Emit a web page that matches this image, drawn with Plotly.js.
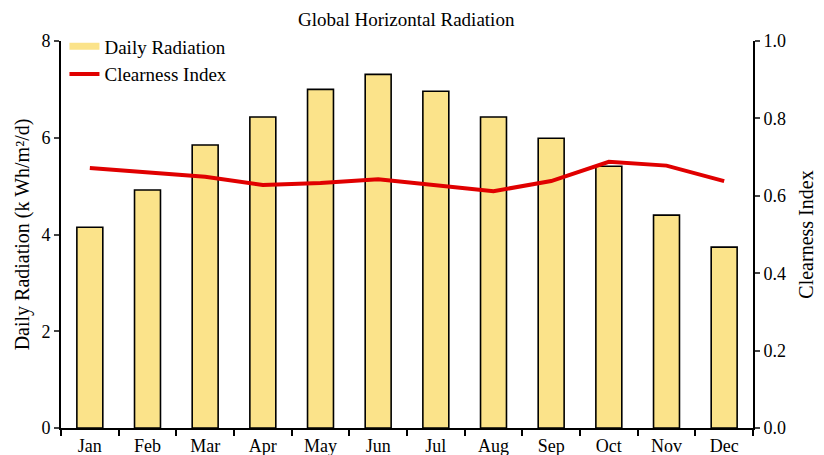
<!DOCTYPE html>
<html><head><meta charset="utf-8">
<script src="https://cdn.plot.ly/plotly-3.0.1.min.js"></script>
<style>html,body{margin:0;padding:0;background:#fff}</style>
</head><body>
<div id="chart" style="width:824px;height:455px"></div>
<script>
const months = ["Jan","Feb","Mar","Apr","May","Jun","Jul","Aug","Sep","Oct","Nov","Dec"];
const dailyRadiation = [4.15,4.92,5.85,6.43,7.00,7.31,6.96,6.43,5.99,5.41,4.40,3.74];
const clearnessIndex = [0.672,0.660,0.649,0.628,0.633,0.643,0.628,0.612,0.638,0.688,0.678,0.638];

const F = "Liberation Serif, Times New Roman, serif";
const data = [
  {type:"bar", x:months, y:dailyRadiation, name:"Daily Radiation", showlegend:false,
   marker:{color:"#FBE38A", line:{color:"#000", width:1.6}}, width:0.45},
  {type:"scatter", mode:"lines", x:[null], y:[null], name:"Daily Radiation",
   line:{color:"#FBE38A", width:7}, hoverinfo:"skip"},
  {type:"scatter", mode:"lines", x:months, y:clearnessIndex, name:"Clearness Index",
   yaxis:"y2", line:{color:"#E00000", width:4}}
];
const layout = {
  width:824, height:455,
  margin:{l:61, r:71, t:41, b:27},
  paper_bgcolor:"#fff", plot_bgcolor:"#fff",
  font:{family:F, size:16, color:"#000"},
  title:{text:"Global Horizontal Radiation", x:0.493, xanchor:"center", y:0.958, yanchor:"middle", font:{family:F, size:19}},
  showlegend:true,
  legend:{x:0.005, y:1.035, xanchor:"left", yanchor:"top", bgcolor:"rgba(0,0,0,0)",
          font:{family:F, size:19}, tracegroupgap:0, itemwidth:30},
  xaxis:{type:"category", range:[-0.5,11.5], showline:true, linecolor:"#000", linewidth:2,
         ticks:"outside", tickson:"boundaries", ticklen:6, tickwidth:2, tickcolor:"#000",
         showgrid:false, zeroline:false, tickfont:{family:F, size:18}, fixedrange:true},
  yaxis:{range:[0,8], dtick:2, showline:true, linecolor:"#000", linewidth:2,
         ticks:"outside", ticklen:5, tickwidth:2, showgrid:false, zeroline:false,
         tickfont:{family:F, size:18},
         title:{text:"Daily Radiation (k Wh/m²/d)", font:{family:F, size:20}, standoff:6}},
  yaxis2:{range:[0,1.0], dtick:0.2, tickformat:".1f", overlaying:"y", side:"right",
          showline:true, linecolor:"#000", linewidth:2, ticks:"outside", ticklen:5, tickwidth:2,
          showgrid:false, zeroline:false, tickfont:{family:F, size:18},
          title:{text:"Clearness Index", font:{family:F, size:20}, standoff:14}}
};
Plotly.newPlot("chart", data, layout, {displayModeBar:false, staticPlot:true});
</script>
</body></html>
